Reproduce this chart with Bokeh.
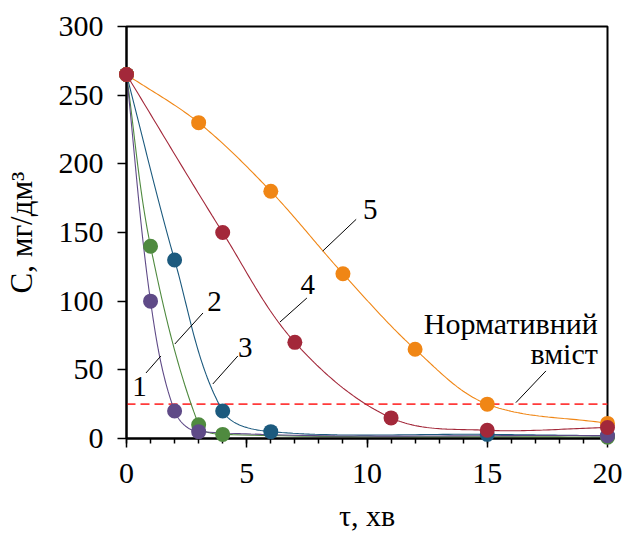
import numpy as np
from bokeh.plotting import figure
from bokeh.models import Range1d, Label, FixedTicker
from bokeh.embed import file_html
from bokeh.resources import INLINE

# ---- data ----
t1 = [0, 1, 2, 3, 20];            c1 = [265, 100, 20, 5, 2]
t2 = [0, 1, 3, 4, 20];            c2 = [265, 140, 10, 3, 1]
t3 = [0, 2, 4, 6, 15, 20];        c3 = [265, 130, 20, 5, 3, 2]
t4 = [0, 4, 7, 11, 15, 20];       c4 = [265, 150, 70, 15, 6, 8]
t5 = [0, 3, 6, 9, 12, 15, 20];    c5 = [265, 230, 180, 120, 65, 25, 11]
norm_level = 25
x_ticks = [0, 5, 10, 15, 20]
y_ticks = [0, 50, 100, 150, 200, 250, 300]
x_minor = list(range(0, 21))

# curve number labels and leader lines
num_labels = ["1", "2", "3", "4", "5"]
num_x = [0.54, 3.66, 4.94, 7.54, 10.14]
num_y = [38, 100, 66, 112, 167]
lead_x0 = [0.81, 3.18, 4.63, 7.5, 9.55]
lead_y0 = [47.7, 91.4, 60.1, 102.3, 159.6]
lead_x1 = [1.43, 2.01, 3.59, 6.38, 8.16]
lead_y1 = [60.1, 68.8, 39.7, 84.8, 136.5]
norm_text = ["Нормативний", "вміст"]
norm_tx = 19.6
norm_ty = [84, 62]
norm_lead = [17.44, 49.2, 16.19, 26.1]

x_title = "τ, хв"
y_title = "C, мг/дм³"

colors = {1: "#5f4a87", 2: "#4f8a3f", 3: "#1c5a7e", 4: "#a3283a", 5: "#f08615"}
FONT = "Liberation Serif"

ML, MR, MT, MB = 124, 15, 26, 60
FW, FH = 481, 412
X0, X1, Y0, Y1 = 0, 20, 0, 300
sx, sy = FW / (X1 - X0), FH / (Y1 - Y0)


def smooth(xs, ys, n=40):
    P = np.column_stack([np.array(xs, float) * sx, np.array(ys, float) * sy])
    m = len(P)
    T = []
    for i in range(m):
        a = P[max(i - 1, 0)]
        b = P[min(i + 1, m - 1)]
        d = b - a
        T.append(d / np.linalg.norm(d))
    out = []
    t = np.linspace(0, 1, n)[:, None]
    for i in range(m - 1):
        p0, p3 = P[i], P[i + 1]
        L = np.linalg.norm(p3 - p0)
        q1 = p0 + T[i] * L / 3
        q2 = p3 - T[i + 1] * L / 3
        seg = (1 - t) ** 3 * p0 + 3 * (1 - t) ** 2 * t * q1 + 3 * (1 - t) * t ** 2 * q2 + t ** 3 * p3
        out.append(seg if i == 0 else seg[1:])
    pts = np.vstack(out)
    return pts[:, 0] / sx, pts[:, 1] / sy


p = figure(frame_width=FW, frame_height=FH, output_backend="svg", toolbar_location=None,
           x_range=Range1d(X0, X1), y_range=Range1d(Y0, Y1),
           min_border_left=ML, min_border_right=MR, min_border_top=MT, min_border_bottom=MB)
p.background_fill_color = "white"
p.border_fill_color = "white"
p.outline_line_color = "black"
p.outline_line_width = 2
p.xgrid.visible = False
p.ygrid.visible = False

p.xaxis.ticker = FixedTicker(ticks=x_ticks, minor_ticks=x_minor)
p.yaxis.ticker = FixedTicker(ticks=y_ticks, minor_ticks=[])
for ax in (p.xaxis[0], p.yaxis[0]):
    ax.axis_line_color = "black"
    ax.axis_line_width = 2
    ax.major_tick_line_color = "black"
    ax.major_tick_line_width = 1.5
    ax.major_tick_in = 0
    ax.major_tick_out = 9
    ax.minor_tick_line_color = "black"
    ax.minor_tick_line_width = 1.5
    ax.minor_tick_in = 0
    ax.minor_tick_out = 5
    ax.major_label_text_font = FONT
    ax.major_label_text_font_size = "30px"
    ax.major_label_text_color = "black"
    ax.axis_label_text_font = FONT
    ax.axis_label_text_font_style = "normal"
    ax.axis_label_text_color = "black"
p.xaxis.axis_label_text_font_size = "30px"
p.yaxis.axis_label_text_font_size = "31px"
p.xaxis.major_label_standoff = 16
p.yaxis.major_label_standoff = 14
p.xaxis.axis_label = x_title
p.yaxis.axis_label = y_title
p.xaxis.axis_label_standoff = 13
p.yaxis.axis_label_standoff = 17

# normative level
p.line([X0, X1], [norm_level, norm_level], line_color="#ff3b3b", line_width=1.6, line_dash="9 5")

series = [(3, t3, c3), (2, t2, c2), (1, t1, c1), (5, t5, c5), (4, t4, c4)]
for k, xs, ys in series:
    lx, ly = smooth(xs, ys)
    p.line(lx, ly, line_color=colors[k], line_width=1.1)
for k, xs, ys in series:
    r = p.scatter(xs, ys, size=15, fill_color=colors[k], line_color=colors[k], line_width=0)
    r.level = "overlay"

# leader lines
p.segment(lead_x0, lead_y0, lead_x1, lead_y1, line_color="black", line_width=1)
p.segment([norm_lead[0]], [norm_lead[1]], [norm_lead[2]], [norm_lead[3]], line_color="black", line_width=1)

for s, x, y in zip(num_labels, num_x, num_y):
    p.add_layout(Label(x=x, y=y, text=s, text_font=FONT, text_font_size="29px",
                       text_align="center", text_baseline="alphabetic", text_color="black"))
for s, y in zip(norm_text, norm_ty):
    p.add_layout(Label(x=norm_tx, y=y, text=s, text_font=FONT, text_font_size="30px",
                       text_align="right", text_baseline="alphabetic", text_color="black"))

open("out.html", "w").write(file_html(p, INLINE))
